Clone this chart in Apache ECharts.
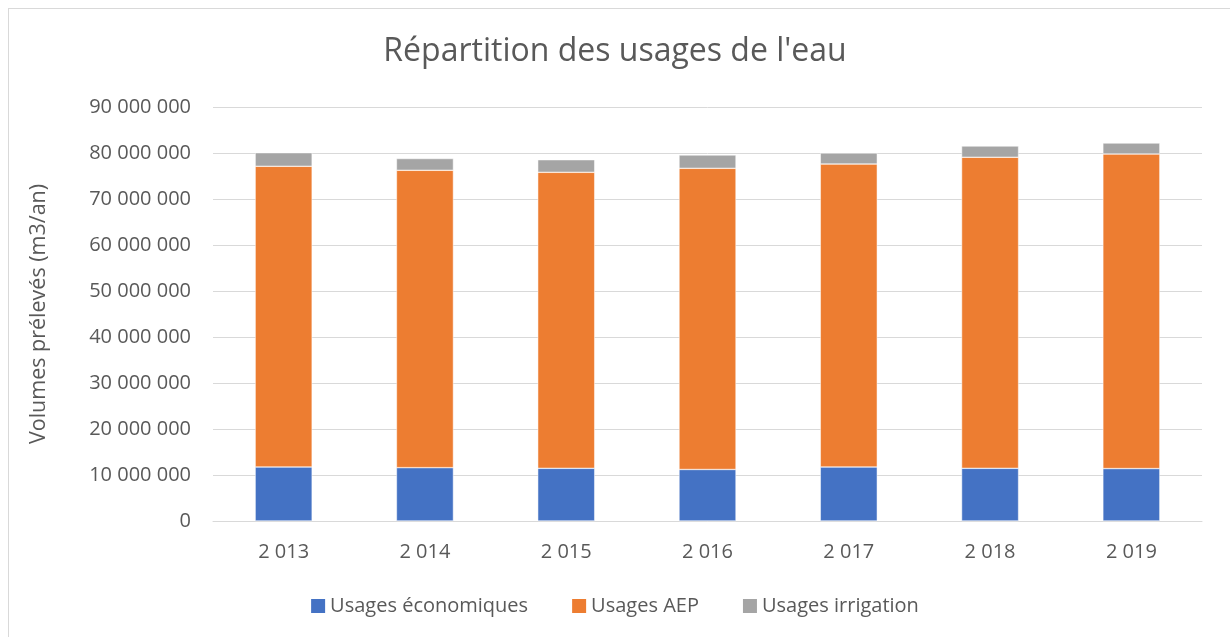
<!DOCTYPE html>
<html>
<head>
<meta charset="utf-8">
<script src="https://cdn.jsdelivr.net/npm/echarts@6/dist/echarts.min.js"></script>
<style>
  html, body { margin: 0; padding: 0; background: #fff; }
  #frame { position: absolute; left: 8px; top: 8px; width: 1230px; height: 640px;
           border-left: 1px solid #d9d9d9; border-top: 1px solid #d9d9d9; }
  #chart { position: absolute; left: 0; top: 0; width: 1230px; height: 637px; }
</style>
</head>
<body>
<div id="frame"></div>
<div id="chart"></div>
<script>
// années
const years = ['2 013', '2 014', '2 015', '2 016', '2 017', '2 018', '2 019'];
// volumes prélevés (m3/an)
const usagesEco = [11740000, 11600000, 11450000, 11200000, 11740000, 11450000, 11400000];
const usagesAEP = [65370000, 64640000, 64350000, 65470000, 65860000, 67620000, 68380000];
const usagesIrrigation = [2960000, 2560000, 2740000, 2900000, 2400000, 2450000, 2390000];

const font = 'Open Sans';
const textColor = '#595959';

function fmt(v) {
  return String(v).replace(/\B(?=(\d{3})+(?!\d))/g, ' ');
}

const chart = echarts.init(document.getElementById('chart'));

const seriesBase = {
  type: 'bar',
  stack: 'total',
  barWidth: 57,
  itemStyle: { borderColor: '#fff', borderWidth: 0.5 }
};

chart.setOption({
  animation: false,
  textStyle: { fontFamily: font },
  color: ['#4472C4', '#ED7D31', '#A5A5A5'],
  title: {
    text: "Répartition des usages de l'eau",
    left: 'center',
    top: 31,
    textStyle: { fontFamily: font, fontSize: 32, fontWeight: 'normal', color: textColor }
  },
  legend: {
    bottom: 16,
    left: 'center',
    icon: 'rect',
    itemWidth: 14,
    itemHeight: 14,
    itemGap: 44,
    itemStyle: { borderWidth: 0 },
    textStyle: { fontFamily: font, fontSize: 20, color: textColor },
    data: ['Usages économiques', 'Usages AEP', 'Usages irrigation']
  },
  grid: { left: 213, right: 28, top: 107, bottom: 116 },
  xAxis: {
    type: 'category',
    data: years,
    axisLine: { lineStyle: { color: '#d9d9d9', width: 1 } },
    axisTick: { show: false },
    axisLabel: { fontFamily: font, fontSize: 20, color: textColor, margin: 21 }
  },
  yAxis: {
    type: 'value',
    min: 0,
    max: 90000000,
    interval: 10000000,
    name: 'Volumes prélevés (m3/an)',
    nameLocation: 'middle',
    nameGap: 163,
    nameTextStyle: { fontFamily: font, fontSize: 21.5, color: textColor },
    axisLine: { show: false },
    axisTick: { show: false },
    splitLine: { lineStyle: { color: '#d9d9d9', width: 1 } },
    axisLabel: { fontFamily: font, fontSize: 20, color: textColor, margin: 22, formatter: fmt }
  },
  series: [
    Object.assign({}, seriesBase, { name: 'Usages économiques', data: usagesEco }),
    Object.assign({}, seriesBase, { name: 'Usages AEP', data: usagesAEP }),
    Object.assign({}, seriesBase, { name: 'Usages irrigation', data: usagesIrrigation })
  ]
});
</script>
</body>
</html>
